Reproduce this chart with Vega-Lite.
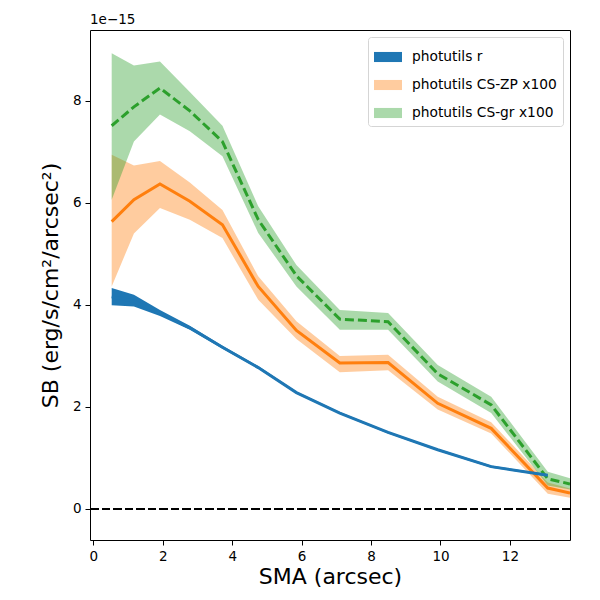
{
  "$schema": "https://vega.github.io/schema/vega-lite/v6.json",
  "width": 480,
  "height": 510,
  "autosize": {"type": "none"},
  "padding": {"left": 90, "top": 30, "right": 30, "bottom": 60},
  "background": "white",
  "title": {
    "text": "1e−15",
    "anchor": "start",
    "frame": "group",
    "font": "DejaVu Sans",
    "fontSize": 13.5,
    "fontWeight": "normal",
    "color": "black",
    "offset": 4
  },
  "config": {
    "view": {"stroke": "black", "strokeWidth": 1},
    "axis": {
      "grid": false,
      "domain": false,
      "labelFont": "DejaVu Sans",
      "labelFontSize": 13.5,
      "labelColor": "black",
      "tickColor": "black",
      "tickSize": 5,
      "tickWidth": 1,
      "labelPadding": 4,
      "titleFont": "DejaVu Sans",
      "titleFontSize": 22,
      "titleFontWeight": "normal",
      "titleColor": "black"
    },
    "legend": {
      "orient": "top-right",
      "offset": 7,
      "labelFont": "DejaVu Sans",
      "labelFontSize": 13.8,
      "labelColor": "black",
      "strokeColor": "#d5d5d5",
      "fillColor": "white",
      "cornerRadius": 3,
      "padding": 6,
      "rowPadding": 7,
      "labelOffset": 10,
      "symbolType": "M-1,-0.36H1V0.36H-1Z",
      "symbolSize": 784,
      "symbolStrokeWidth": 0
    }
  },
  "data": {
    "values": [
      {"series": "photutils r", "sma": 0.53, "sb": 4.16, "lo": 3.99, "hi": 4.33},
      {"series": "photutils r", "sma": 1.17, "sb": 4.07, "lo": 3.97, "hi": 4.2},
      {"series": "photutils r", "sma": 1.92, "sb": 3.84, "lo": 3.78, "hi": 3.9},
      {"series": "photutils r", "sma": 2.78, "sb": 3.55, "lo": 3.51, "hi": 3.59},
      {"series": "photutils r", "sma": 3.72, "sb": 3.17, "lo": 3.14, "hi": 3.2},
      {"series": "photutils r", "sma": 4.75, "sb": 2.77, "lo": 2.75, "hi": 2.8},
      {"series": "photutils r", "sma": 5.85, "sb": 2.28, "lo": 2.26, "hi": 2.3},
      {"series": "photutils r", "sma": 7.1, "sb": 1.88, "lo": 1.86, "hi": 1.9},
      {"series": "photutils r", "sma": 8.49, "sb": 1.5, "lo": 1.48, "hi": 1.52},
      {"series": "photutils r", "sma": 9.92, "sb": 1.16, "lo": 1.14, "hi": 1.18},
      {"series": "photutils r", "sma": 11.46, "sb": 0.83, "lo": 0.81, "hi": 0.85},
      {"series": "photutils r", "sma": 13.09, "sb": 0.66, "lo": 0.64, "hi": 0.68},
      {"series": "photutils CS-ZP x100", "sma": 0.53, "sb": 5.63, "lo": 4.36, "hi": 6.94},
      {"series": "photutils CS-ZP x100", "sma": 1.17, "sb": 6.06, "lo": 5.4, "hi": 6.73},
      {"series": "photutils CS-ZP x100", "sma": 1.92, "sb": 6.37, "lo": 5.9, "hi": 6.82},
      {"series": "photutils CS-ZP x100", "sma": 2.78, "sb": 6.03, "lo": 5.67, "hi": 6.4},
      {"series": "photutils CS-ZP x100", "sma": 3.72, "sb": 5.57, "lo": 5.31, "hi": 5.86},
      {"series": "photutils CS-ZP x100", "sma": 4.75, "sb": 4.36, "lo": 4.1, "hi": 4.56},
      {"series": "photutils CS-ZP x100", "sma": 5.85, "sb": 3.5, "lo": 3.33, "hi": 3.68},
      {"series": "photutils CS-ZP x100", "sma": 7.1, "sb": 2.86, "lo": 2.68, "hi": 3.0},
      {"series": "photutils CS-ZP x100", "sma": 8.49, "sb": 2.87, "lo": 2.72, "hi": 3.02},
      {"series": "photutils CS-ZP x100", "sma": 9.92, "sb": 2.07, "lo": 1.95, "hi": 2.2},
      {"series": "photutils CS-ZP x100", "sma": 11.46, "sb": 1.58, "lo": 1.48, "hi": 1.7},
      {"series": "photutils CS-ZP x100", "sma": 13.09, "sb": 0.41, "lo": 0.3, "hi": 0.52},
      {"series": "photutils CS-ZP x100", "sma": 13.73, "sb": 0.31, "lo": 0.22, "hi": 0.4},
      {"series": "photutils CS-gr x100", "sma": 0.53, "sb": 7.51, "lo": 6.06, "hi": 8.93},
      {"series": "photutils CS-gr x100", "sma": 1.17, "sb": 7.88, "lo": 7.2, "hi": 8.69},
      {"series": "photutils CS-gr x100", "sma": 1.92, "sb": 8.25, "lo": 7.73, "hi": 8.77},
      {"series": "photutils CS-gr x100", "sma": 2.78, "sb": 7.8, "lo": 7.4, "hi": 8.17},
      {"series": "photutils CS-gr x100", "sma": 3.72, "sb": 7.2, "lo": 6.91, "hi": 7.51},
      {"series": "photutils CS-gr x100", "sma": 4.75, "sb": 5.67, "lo": 5.41, "hi": 5.93},
      {"series": "photutils CS-gr x100", "sma": 5.85, "sb": 4.57, "lo": 4.36, "hi": 4.78},
      {"series": "photutils CS-gr x100", "sma": 7.1, "sb": 3.72, "lo": 3.51, "hi": 3.9},
      {"series": "photutils CS-gr x100", "sma": 8.49, "sb": 3.67, "lo": 3.51, "hi": 3.84},
      {"series": "photutils CS-gr x100", "sma": 9.92, "sb": 2.65, "lo": 2.5, "hi": 2.82},
      {"series": "photutils CS-gr x100", "sma": 11.46, "sb": 2.04, "lo": 1.88, "hi": 2.2},
      {"series": "photutils CS-gr x100", "sma": 13.09, "sb": 0.59, "lo": 0.46, "hi": 0.73},
      {"series": "photutils CS-gr x100", "sma": 13.73, "sb": 0.49, "lo": 0.38, "hi": 0.6}
    ]
  },
  "encoding": {
    "x": {
      "field": "sma",
      "type": "quantitative",
      "title": "SMA (arcsec)",
      "scale": {"domain": [-0.095, 13.73], "nice": false, "zero": false},
      "axis": {"values": [0, 2, 4, 6, 8, 10, 12], "titlePadding": 4}
    }
  },
  "layer": [
    {
      "mark": {"type": "area", "clip": true},
      "encoding": {
        "y": {
          "field": "lo",
          "type": "quantitative",
          "title": "SB (erg/s/cm²/arcsec²)",
          "scale": {"domain": [-0.608, 9.386], "nice": false, "zero": false},
          "axis": {"values": [0, 2, 4, 6, 8], "titlePadding": 10}
        },
        "y2": {"field": "hi"},
        "color": {
          "field": "series",
          "type": "nominal",
          "scale": {
            "domain": ["photutils r", "photutils CS-ZP x100", "photutils CS-gr x100"],
            "range": ["#1f77b4", "#ff7f0e", "#2ca02c"]
          },
          "legend": {"title": null}
        },
        "opacity": {
          "field": "series",
          "type": "nominal",
          "scale": {
            "type": "ordinal",
            "domain": ["photutils r", "photutils CS-ZP x100", "photutils CS-gr x100"],
            "range": [1, 0.4, 0.4]
          },
          "legend": {"title": null}
        }
      }
    },
    {
      "mark": {"type": "rule", "color": "black", "strokeWidth": 2, "strokeDash": [8, 3.5]},
      "encoding": {"y": {"datum": 0}, "x": null}
    },
    {
      "transform": [{"filter": "datum.series === 'photutils CS-ZP x100'"}],
      "mark": {"type": "line", "color": "#ff7f0e", "strokeWidth": 3, "clip": true},
      "encoding": {"y": {"field": "sb", "type": "quantitative"}}
    },
    {
      "transform": [{"filter": "datum.series === 'photutils CS-gr x100'"}],
      "mark": {"type": "line", "color": "#2ca02c", "strokeWidth": 3, "strokeDash": [9, 4], "clip": true},
      "encoding": {"y": {"field": "sb", "type": "quantitative"}}
    },
    {
      "transform": [{"filter": "datum.series === 'photutils r'"}],
      "mark": {"type": "line", "color": "#1f77b4", "strokeWidth": 3, "clip": true},
      "encoding": {"y": {"field": "sb", "type": "quantitative"}}
    }
  ]
}
